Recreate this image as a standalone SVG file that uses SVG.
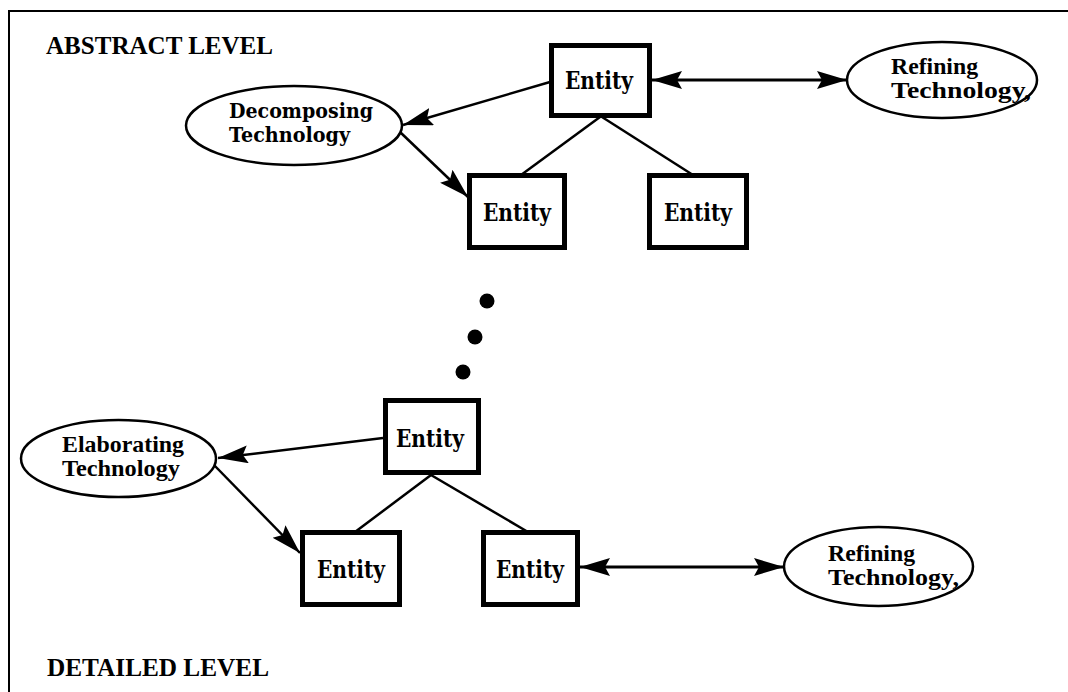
<svg xmlns="http://www.w3.org/2000/svg" width="1068" height="692" viewBox="0 0 1068 692">
<style>
.box{fill:#fff;stroke:#000;stroke-width:5}
.ell{fill:#fff;stroke:#000;stroke-width:2.5}
.ent{font-family:"DejaVu Serif",serif;font-weight:bold;font-size:24px;text-anchor:middle}
.slab{font-family:"DejaVu Serif",serif;font-weight:bold;font-size:21px}
.tms{font-family:"Liberation Serif","Times New Roman",serif;font-weight:bold;font-size:24px}
.lvl{font-family:"Liberation Serif","Times New Roman",serif;font-weight:bold;font-size:26px}
.ln{stroke:#000;stroke-width:2.5;fill:none}
.arr{stroke:#000;stroke-width:2.5;fill:none;marker-end:url(#ah)}
.dbl{stroke:#000;stroke-width:3;fill:none;marker-start:url(#ahs);marker-end:url(#ah)}
</style>
<defs>
<marker id="ah" markerUnits="userSpaceOnUse" markerWidth="32" markerHeight="20" refX="30" refY="9" orient="auto">
<path d="M0,0 L30,9 L0,18 L5,9 z" fill="#000"/>
</marker>
<marker id="ahs" markerUnits="userSpaceOnUse" markerWidth="32" markerHeight="20" refX="0" refY="9" orient="auto">
<path d="M30,0 L0,9 L30,18 L25,9 z" fill="#000"/>
</marker>
</defs>
<rect width="1068" height="692" fill="#fff"/>
<path d="M9,692 V11 H1068" fill="none" stroke="#000" stroke-width="2"/>
<text class="lvl" x="46" y="54" textLength="227" lengthAdjust="spacingAndGlyphs">ABSTRACT LEVEL</text>
<text class="lvl" x="47" y="676" textLength="222" lengthAdjust="spacingAndGlyphs">DETAILED LEVEL</text>

<g id="connectors">
<line class="ln" x1="600" y1="117" x2="521" y2="175"/>
<line class="ln" x1="602" y1="117" x2="693" y2="175"/>
<line class="ln" x1="431" y1="475" x2="355" y2="532"/>
<line class="ln" x1="431" y1="475" x2="528" y2="532"/>
<line class="arr" x1="550" y1="82" x2="403" y2="125"/>
<line class="arr" x1="400" y1="132" x2="468" y2="197"/>
<line class="dbl" x1="652" y1="80" x2="847" y2="80"/>
<line class="arr" x1="383" y1="438" x2="218" y2="458"/>
<line class="arr" x1="214" y1="465" x2="300" y2="553"/>
<line class="dbl" x1="580" y1="567" x2="784" y2="567"/>
</g>

<g id="dots">
<circle cx="487" cy="301" r="7.5"/>
<circle cx="475" cy="337" r="7.5"/>
<circle cx="463" cy="372" r="7.5"/>
</g>

<g id="entity-top">
<rect class="box" x="551.5" y="45.5" width="98" height="70"/>
<text class="ent" x="599" y="89" textLength="68" lengthAdjust="spacingAndGlyphs">Entity</text>
</g>
<g id="entity-top-left">
<rect class="box" x="469.5" y="175.5" width="95" height="72"/>
<text class="ent" x="517" y="221" textLength="68" lengthAdjust="spacingAndGlyphs">Entity</text>
</g>
<g id="entity-top-right">
<rect class="box" x="649.5" y="175.5" width="97" height="72"/>
<text class="ent" x="698" y="221" textLength="68" lengthAdjust="spacingAndGlyphs">Entity</text>
</g>
<g id="decomposing">
<ellipse class="ell" cx="294" cy="125.5" rx="108" ry="39.5"/>
<text class="slab" x="229" y="118" textLength="144" lengthAdjust="spacingAndGlyphs">Decomposing</text>
<text class="slab" x="229" y="142" textLength="121" lengthAdjust="spacingAndGlyphs">Technology</text>
</g>
<g id="refining-top">
<ellipse class="ell" cx="942" cy="80" rx="95" ry="38"/>
<text class="tms" x="891" y="74" textLength="87" lengthAdjust="spacingAndGlyphs">Refining</text>
<text class="tms" x="891" y="98" textLength="140" lengthAdjust="spacingAndGlyphs">Technology,</text>
</g>

<g id="entity-bottom">
<rect class="box" x="385.5" y="400.5" width="93" height="72"/>
<text class="ent" x="430" y="447" textLength="68" lengthAdjust="spacingAndGlyphs">Entity</text>
</g>
<g id="entity-bottom-left">
<rect class="box" x="302.5" y="532.5" width="97" height="72"/>
<text class="ent" x="351" y="578" textLength="68" lengthAdjust="spacingAndGlyphs">Entity</text>
</g>
<g id="entity-bottom-right">
<rect class="box" x="483.5" y="532.5" width="94" height="72"/>
<text class="ent" x="530" y="578" textLength="68" lengthAdjust="spacingAndGlyphs">Entity</text>
</g>
<g id="elaborating">
<ellipse class="ell" cx="118.5" cy="458.5" rx="97.5" ry="38.5"/>
<text class="tms" x="62" y="452" textLength="122" lengthAdjust="spacingAndGlyphs">Elaborating</text>
<text class="tms" x="62" y="476" textLength="118" lengthAdjust="spacingAndGlyphs">Technology</text>
</g>
<g id="refining-bottom">
<ellipse class="ell" cx="878.5" cy="566.5" rx="94.5" ry="39.5"/>
<text class="tms" x="828" y="561" textLength="87" lengthAdjust="spacingAndGlyphs">Refining</text>
<text class="tms" x="828" y="585" textLength="131" lengthAdjust="spacingAndGlyphs">Technology,</text>
</g>
</svg>
